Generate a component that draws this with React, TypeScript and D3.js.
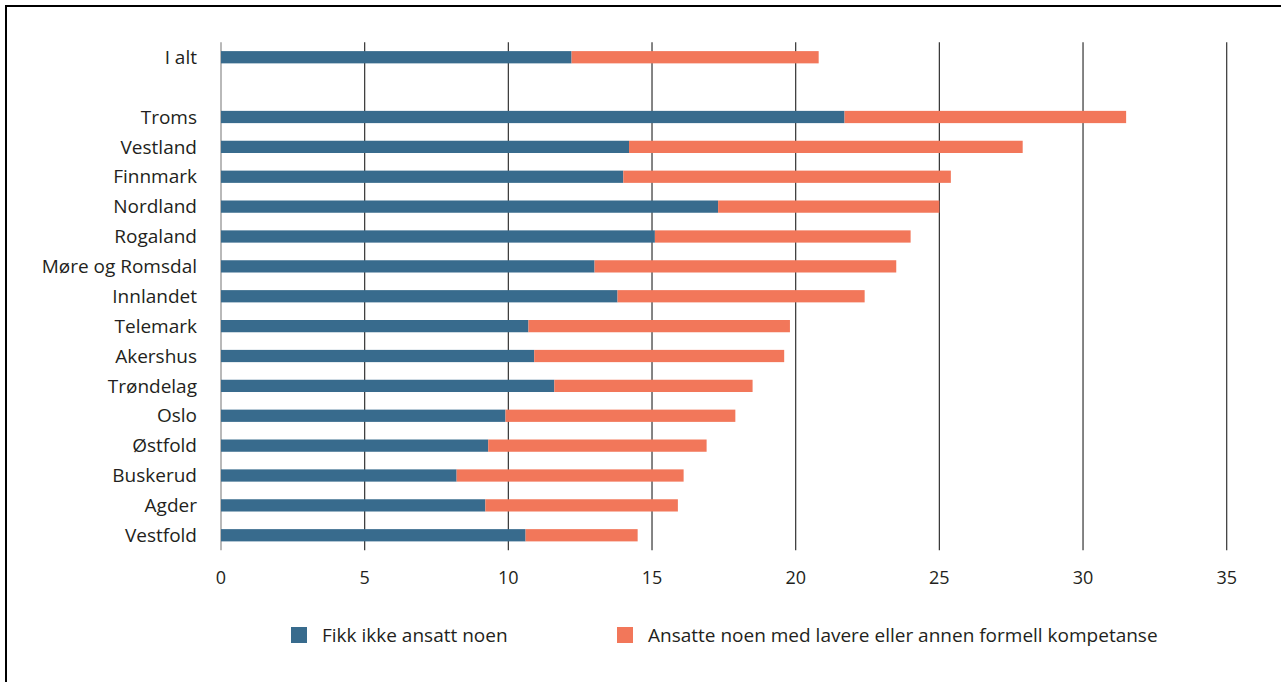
import React from "react";
import * as d3 from "d3";

const categories = [
  "I alt", "", "Troms", "Vestland", "Finnmark", "Nordland", "Rogaland",
  "Møre og Romsdal", "Innlandet", "Telemark", "Akershus", "Trøndelag",
  "Oslo", "Østfold", "Buskerud", "Agder", "Vestfold",
];
const fikkIkke = [12.2, null, 21.7, 14.2, 14.0, 17.3, 15.1, 13.0, 13.8, 10.7, 10.9, 11.6, 9.9, 9.3, 8.2, 9.2, 10.6];
const lavere = [8.6, null, 9.8, 13.7, 11.4, 7.7, 8.9, 10.5, 8.6, 9.1, 8.7, 6.9, 8.0, 7.6, 7.9, 6.7, 3.9];
const xTicks = [0, 5, 10, 15, 20, 25, 30, 35];
const seriesNames = ["Fikk ikke ansatt noen", "Ansatte noen med lavere eller annen formell kompetanse"];
const colors = ["#386b8d", "#f2775a"];

export default function App() {
  const W = 1281, H = 682;
  const x = d3.scaleLinear().domain([0, 35]).range([221, 1226.7]);
  const keys = categories.map((c, i) => i + ":" + c);
  const y = d3.scaleBand<string>().domain(keys).range([42.3, 550.2]).paddingInner(0.59).paddingOuter(0.295);
  const font = "'Open Sans', sans-serif";
  const textColor = "#231f20";
  return (
    <svg width={W} height={H} style={{ position: "absolute", left: 0, top: 0, background: "#fff" }}>
      <rect x={6} y={6} width={W + 20} height={H + 20} fill="#fff" stroke="#000" strokeWidth={2} />
      {xTicks.map((t) => (
        <g key={t}>
          <line x1={x(t)} x2={x(t)} y1={42.3} y2={550.2} stroke={t === 0 ? "#8a8a8a" : "#333"} strokeWidth={1.2} />
          <text x={x(t)} y={584} textAnchor="middle" fontFamily={font} fontSize={18} fill={textColor}>{t}</text>
        </g>
      ))}
      {categories.map((c, i) => {
        if (c === "") return null;
        const yy = y(keys[i])!;
        const bh = y.bandwidth();
        const a = fikkIkke[i] as number;
        const b = lavere[i] as number;
        return (
          <g key={keys[i]}>
            <rect x={x(0)} y={yy} width={x(a) - x(0)} height={bh} fill={colors[0]} />
            <rect x={x(a)} y={yy} width={x(a + b) - x(a)} height={bh} fill={colors[1]} />
            <text x={197} y={yy + bh / 2} dy="0.35em" textAnchor="end" fontFamily={font} fontSize={19} fill={textColor}>{c}</text>
          </g>
        );
      })}
      <rect x={291} y={627} width={16} height={16} fill={colors[0]} />
      <text x={322} y={641.5} fontFamily={font} fontSize={19} fill={textColor}>{seriesNames[0]}</text>
      <rect x={617} y={627} width={16} height={16} fill={colors[1]} />
      <text x={648} y={641.5} fontFamily={font} fontSize={19} fill={textColor}>{seriesNames[1]}</text>
    </svg>
  );
}
